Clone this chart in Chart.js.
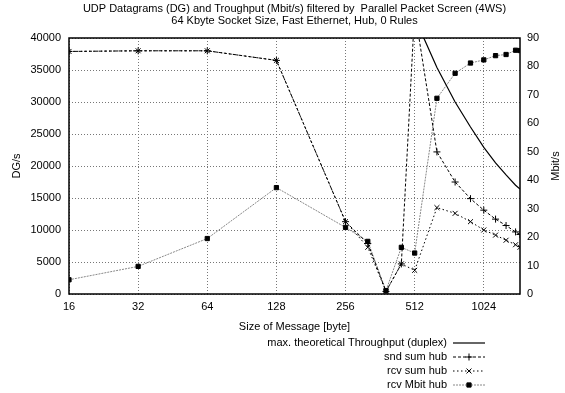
<!DOCTYPE html>
<html>
<head>
<meta charset="utf-8">
<script src="https://cdn.jsdelivr.net/npm/chart.js@4/dist/chart.umd.min.js"></script>
<style>
  html, body { margin: 0; padding: 0; background: #fff; }
  #wrap { width: 565px; height: 393px; }
</style>
</head>
<body>
<div id="wrap"><canvas id="myChart"></canvas></div>
<script>
// message sizes in byte (x axis, log2)
var sizes = [16, 32, 64, 128, 256, 320, 384, 448, 512, 640, 768, 896, 1024, 1152, 1280, 1408, 1472];
var xTicks = [16, 32, 64, 128, 256, 512, 1024];

// DG/s (left axis)
var maxTheo = [null, null, null, null, null, null, null, null, 43200, 35400, 30000, 26100, 22900, 20500, 18600, 17000, 16400];
var sndSum = [37900, 38000, 38000, 36500, 11300, 7900, 400, 4700, 44300, 22200, 17500, 14900, 13100, 11700, 10700, 9700, 9300];
var rcvSum = [37900, 38000, 38000, 36500, 11300, 7300, 400, 4700, 3700, 13500, 12600, 11300, 10000, 9200, 8400, 7700, 7300];

// Mbit/s (right axis)
var rcvMbit = [5.0, 9.7, 19.5, 37.4, 23.4, 18.5, 1.2, 16.4, 14.4, 68.8, 77.6, 81.2, 82.3, 83.8, 84.2, 85.7, 85.6];

var titleLines = [
  "UDP Datagrams (DG) and Troughput (Mbit/s) filtered by  Parallel Packet Screen (4WS)",
  "64 Kbyte Socket Size, Fast Ethernet, Hub, 0 Rules"
];

var FONT = "Liberation Sans, Arial, Helvetica, sans-serif";

function toPoints(vals) {
  var pts = [];
  for (var i = 0; i < sizes.length; i++) {
    pts.push({ x: sizes[i], y: vals[i] });
  }
  return pts;
}

var datasets = [
  {
    label: "max. theoretical Throughput (duplex)",
    data: toPoints(maxTheo),
    yAxisID: "y",
    borderColor: "#000",
    borderWidth: 1.2,
    pointRadius: 0
  },
  {
    label: "snd sum hub",
    data: toPoints(sndSum),
    yAxisID: "y",
    borderColor: "#000",
    borderWidth: 1,
    borderDash: [3, 2],
    pointStyle: "cross",
    pointRadius: 3.5,
    pointBorderColor: "#000",
    pointBorderWidth: 1
  },
  {
    label: "rcv sum hub",
    data: toPoints(rcvSum),
    yAxisID: "y",
    borderColor: "#000",
    borderWidth: 1,
    borderDash: [1.5, 2.5],
    pointStyle: "crossRot",
    pointRadius: 3.5,
    pointBorderColor: "#000",
    pointBorderWidth: 1
  },
  {
    label: "rcv Mbit hub",
    data: toPoints(rcvMbit),
    yAxisID: "y2",
    borderColor: "#888",
    borderWidth: 1,
    borderDash: [2, 1],
    pointStyle: "rect",
    pointRadius: 3,
    pointBackgroundColor: "#000",
    pointBorderColor: "#000",
    pointBorderWidth: 1
  }
];

// titles, frame, right axis label and the key, drawn gnuplot style
var decor = {
  id: "decor",
  afterDraw: function (chart) {
    var ctx = chart.ctx;
    var a = chart.chartArea;
    ctx.save();

    // frame
    ctx.strokeStyle = "#000";
    ctx.lineWidth = 1.5;
    ctx.setLineDash([]);
    ctx.strokeRect(a.left, a.top, a.right - a.left, a.bottom - a.top);

    ctx.fillStyle = "#000";
    ctx.font = "11px " + FONT;
    ctx.textAlign = "center";
    ctx.textBaseline = "middle";
    var cx = (a.left + a.right) / 2;
    ctx.fillText(titleLines[0], cx, 9);
    ctx.fillText(titleLines[1], cx, 21);

    // right axis title, reads bottom to top
    ctx.save();
    ctx.translate(556, (a.top + a.bottom) / 2);
    ctx.rotate(-Math.PI / 2);
    ctx.fillText("Mbit/s", 0, 0);
    ctx.restore();

    // key
    var textRight = 447, x0 = 453, x1 = 485;
    var ys = [343, 357, 371, 385];
    ctx.textAlign = "right";
    chart.data.datasets.forEach(function (ds, i) {
      var y = ys[i];
      ctx.fillStyle = "#000";
      ctx.fillText(ds.label, textRight, y);
      ctx.strokeStyle = ds.borderColor;
      ctx.lineWidth = ds.borderWidth;
      ctx.setLineDash(ds.borderDash || []);
      ctx.beginPath();
      ctx.moveTo(x0, y);
      ctx.lineTo(x1, y);
      ctx.stroke();
      ctx.setLineDash([]);
      if (ds.pointRadius > 0) {
        ctx.strokeStyle = "#000";
        ctx.fillStyle = "#000";
        Chart.helpers.drawPoint(ctx, {
          pointStyle: ds.pointStyle,
          radius: ds.pointRadius,
          rotation: 0,
          borderWidth: 1
        }, (x0 + x1) / 2, y);
      }
    });
    ctx.restore();
  }
};

var ctx = document.getElementById("myChart").getContext("2d");
var chart = new Chart(ctx, {
  type: "line",
  data: { datasets: datasets },
  options: {
    responsive: true,
    maintainAspectRatio: false,
    animation: false,
    layout: { padding: { top: 38, bottom: 59, left: 0, right: 0 } },
    plugins: {
      legend: { display: false },
      tooltip: { enabled: false },
      title: { display: false }
    },
    elements: { line: { tension: 0 } },
    scales: {
      x: {
        type: "logarithmic",
        min: 16,
        max: 1472,
        afterBuildTicks: function (s) {
          s.ticks = xTicks.map(function (v) { return { value: v }; });
        },
        afterFit: function (s) { s.height = 40; },
        ticks: {
          autoSkip: false,
          maxRotation: 0,
          padding: 6,
          color: "#000",
          font: { family: FONT, size: 11 },
          callback: function (v) { return String(v); }
        },
        grid: { color: "#777", lineWidth: 1, drawTicks: false },
        border: { display: false, dash: [1, 2] },
        title: {
          display: true,
          text: "Size of Message [byte]",
          color: "#000",
          font: { family: FONT, size: 11 },
          padding: { top: 0, bottom: 0 }
        }
      },
      y: {
        position: "left",
        min: 0,
        max: 40000,
        afterFit: function (s) { s.width = 69; },
        ticks: {
          stepSize: 5000,
          padding: 8,
          color: "#000",
          font: { family: FONT, size: 11 },
          callback: function (v) { return String(v); }
        },
        grid: { color: "#777", lineWidth: 1, drawTicks: false },
        border: { display: false, dash: [1, 2] },
        title: {
          display: true,
          text: "DG/s",
          color: "#000",
          font: { family: FONT, size: 11 },
          padding: { top: 10, bottom: 0 }
        }
      },
      y2: {
        position: "right",
        min: 0,
        max: 90,
        afterFit: function (s) { s.width = 45; },
        ticks: {
          stepSize: 10,
          padding: 7,
          color: "#000",
          font: { family: FONT, size: 11 }
        },
        grid: { display: false, drawTicks: false },
        border: { display: false }
      }
    }
  },
  plugins: [decor]
});
</script>
</body>
</html>
